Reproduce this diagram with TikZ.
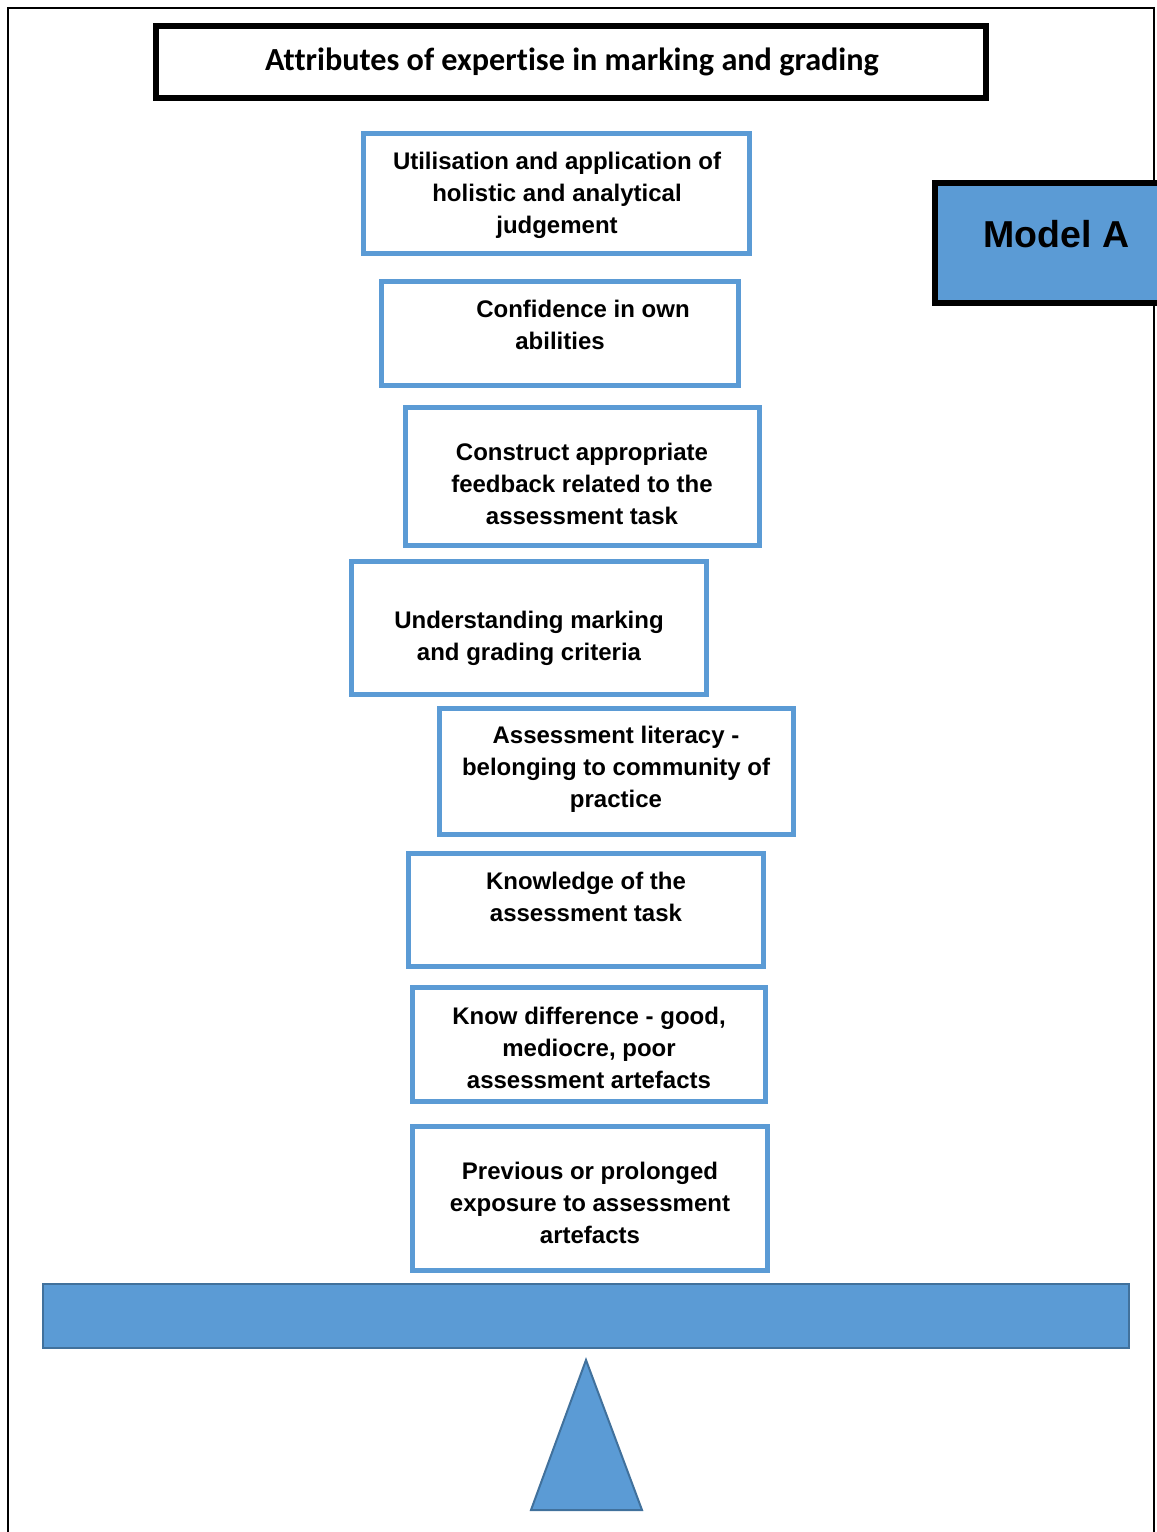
\documentclass[tikz,border=0pt]{standalone}
\usepackage{fontspec}
\setmainfont{Liberation Sans}
\newfontfamily\titlefont[Ligatures=NoCommon]{Carlito}
\definecolor{boxblue}{HTML}{5B9BD5}
\definecolor{edgeblue}{HTML}{41719C}
\begin{document}
\begin{tikzpicture}[x=1pt,y=-1pt,
  attrbox/.style={draw=boxblue, line width=4.5pt, fill=white, inner sep=0pt},
  lbl/.style={align=center, inner sep=0pt, font=\fontsize{24pt}{32pt}\selectfont\bfseries},
  titlebox/.style={draw=black, line width=6pt, inner sep=0pt},
  solidblue/.style={draw=edgeblue, line width=2pt, fill=boxblue}]
\useasboundingbox (0,0) rectangle (1157,1532);

% page frame (open at the bottom)
\draw[line width=2pt] (8,1560) -- (8,8) -- (1154,8) -- (1154,1560);

% heading
\node[titlebox, minimum width=830pt, minimum height=71.5pt] (title) at (571,61.75) {};
\node[font=\titlefont\fontsize{32.2pt}{38pt}\selectfont\bfseries, inner sep=0pt] (titletext) at (572,62) {Attributes of expertise in marking and grading};

% model tag
\node[draw=black, line width=6pt, fill=boxblue, inner sep=0pt, minimum width=235pt, minimum height=120.5pt] (model) at (1052.5,242.75) {};
\node[font=\fontsize{37.5pt}{42pt}\selectfont\bfseries, inner sep=0pt] (modeltext) at (1056.5,234) {Model A};

% stacked attribute boxes
\node[attrbox, minimum width=386pt, minimum height=120pt] (b1) at (556.5,193.5) {};
\node[lbl] (t1) at (557,195) {Utilisation and application of\\holistic and analytical\\judgement};

\node[attrbox, minimum width=357pt, minimum height=104pt] (b2) at (560,333.5) {};
\node[lbl] (t2) at (560,325) {\hspace*{46pt}Confidence in own\\abilities};

\node[attrbox, minimum width=354pt, minimum height=138pt] (b3) at (582.5,476.5) {};
\node[lbl] (t3) at (582,484) {Construct appropriate\\feedback related to the\\assessment task};

\node[attrbox, minimum width=355pt, minimum height=133pt] (b4) at (529,628) {};
\node[lbl] (t4) at (529,638) {Understanding marking\\and grading criteria};

\node[attrbox, minimum width=354pt, minimum height=126pt] (b5) at (616.5,771.5) {};
\node[lbl] (t5) at (616,769) {Assessment literacy -\\belonging to community of\\practice};

\node[attrbox, minimum width=355pt, minimum height=113pt] (b6) at (586,910) {};
\node[lbl] (t6) at (586,897) {Knowledge of the\\assessment task};

\node[attrbox, minimum width=353pt, minimum height=114pt] (b7) at (589,1044.5) {};
\node[lbl] (t7) at (589,1047.5) {Know difference - good,\\mediocre, poor\\assessment artefacts};

\node[attrbox, minimum width=355pt, minimum height=144pt] (b8) at (590,1198.5) {};
\node[lbl] (t8) at (590,1202.5) {Previous or prolonged\\exposure to assessment\\artefacts};

% balance beam and fulcrum
\node[solidblue, inner sep=0pt, minimum width=1086pt, minimum height=64pt] (beam) at (586,1316) {};
\draw[solidblue, line join=miter] (586,1360) -- (642,1510) -- (531,1510) -- cycle;
\end{tikzpicture}
\end{document}
